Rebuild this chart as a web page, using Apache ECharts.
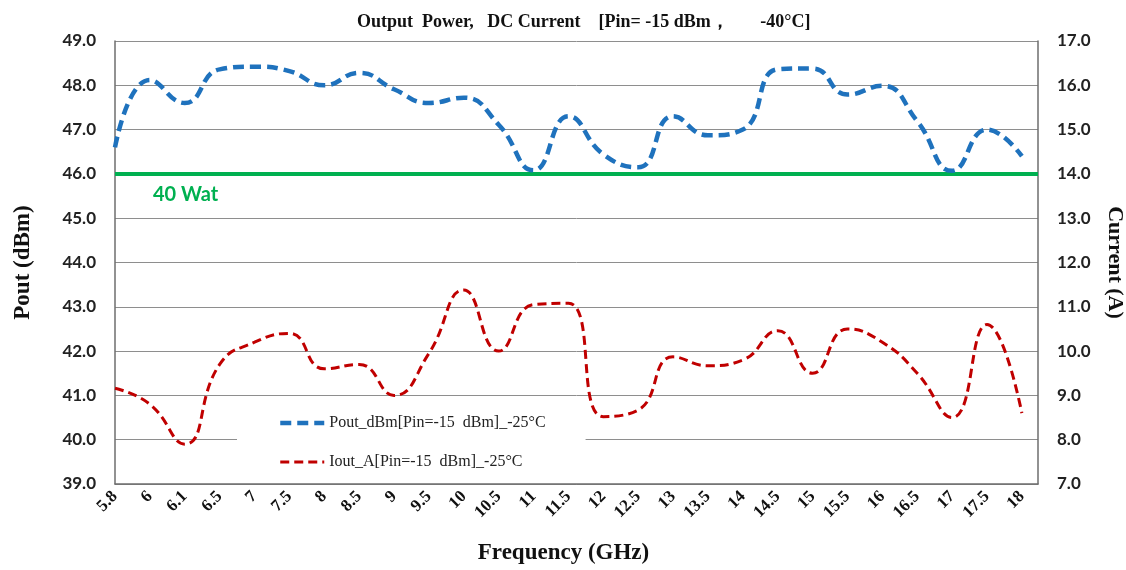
<!DOCTYPE html>
<html>
<head>
<meta charset="utf-8">
<script src="https://cdn.jsdelivr.net/npm/echarts@6/dist/echarts.min.js"></script>
<style>html,body{margin:0;padding:0;background:#fff}#c{width:1126px;height:570px}</style>
</head>
<body>
<div id="c"></div>
<script>
const categories = ['5.8','6','6.1','6.5','7','7.5','8','8.5','9','9.5','10','10.5','11','11.5','12','12.5','13','13.5','14','14.5','15','15.5','16','16.5','17','17.5','18'];
const poutDbm = [46.6,48.12,47.6,48.36,48.42,48.32,48.0,48.28,47.91,47.6,47.72,47.11,46.08,47.3,46.44,46.15,47.3,46.87,47.0,48.36,48.38,47.79,47.99,47.19,46.07,47.0,46.4];
const ioutA = [9.16,8.8,7.9,9.7,10.2,10.4,9.6,9.7,9.0,9.95,11.38,10.0,11.05,11.08,8.52,8.67,9.87,9.67,9.8,10.46,9.5,10.5,10.2,9.5,8.5,10.6,8.6];
const leftTicks = {min: 39, max: 49, interval: 1};
const rightTicks = {min: 7, max: 17, interval: 1};
const limitLine = 46;
const limitLabel = '40 Wat';
const seriesNames = ['Pout_dBm[Pin=-15  dBm]_-25°C', 'Iout_A[Pin=-15  dBm]_-25°C'];

const chart = echarts.init(document.getElementById('c'), null, {renderer: 'canvas'});
const serif = '"Liberation Serif", "DejaVu Serif", serif';
const sans = 'Lato, "Noto Sans", sans-serif';
const gridColor = '#8e8e8e';
const axisColor = '#6e6e6e';

chart.setOption({
  animation: false,
  backgroundColor: '#fff',
  title: {
    text: 'Output  Power,   DC Current    [Pin= -15 dBm，       -40°C]',
    left: 352, top: 8,
    textStyle: {fontFamily: serif, fontWeight: 'bold', fontSize: 18, color: '#111'}
  },
  grid: {left: 115, right: 88, top: 41, bottom: 86, containLabel: false, outerBoundsMode: 'none'},
  legend: {
    orient: 'vertical',
    left: 237, top: 407,
    padding: [8, 40, 8, 41],
    itemGap: 23,
    itemWidth: 44, itemHeight: 14,
    backgroundColor: '#fff',
    itemStyle: {opacity: 0},
    lineStyle: {width: 'inherit'},
    textStyle: {fontFamily: serif, fontSize: 16, color: '#222'},
    data: seriesNames
  },
  xAxis: {
    type: 'value',
    min: 0, max: (1038 - 115) / 34.88, interval: 1,
    name: 'Frequency (GHz)',
    nameLocation: 'middle', nameGap: 58,
    nameTextStyle: {fontFamily: serif, fontWeight: 'bold', fontSize: 23, color: '#111', padding: [0, 26, 0, 0]},
    axisLine: {show: true, lineStyle: {color: axisColor, width: 1.5}},
    axisTick: {show: false},
    splitLine: {show: false},
    axisLabel: {
      rotate: 45, margin: 10, showMaxLabel: false,
      fontFamily: serif, fontWeight: 'bold', fontSize: 17, color: '#111',
      formatter: v => {
        const r = Math.round(v);
        return Math.abs(v - r) < 1e-6 && categories[r] !== undefined ? categories[r] : '';
      }
    }
  },
  yAxis: [
    {
      type: 'value', position: 'left',
      min: leftTicks.min, max: leftTicks.max, interval: leftTicks.interval,
      name: 'Pout (dBm)', nameLocation: 'middle', nameGap: 80, nameRotate: 90,
      nameTextStyle: {fontFamily: serif, fontWeight: 'bold', fontSize: 23, color: '#111'},
      axisLine: {show: true, lineStyle: {color: axisColor, width: 1.5}},
      axisTick: {show: false},
      splitLine: {show: true, lineStyle: {color: gridColor, width: 1}},
      axisLabel: {margin: 19, fontFamily: sans, fontWeight: 'bold', fontSize: 17, color: '#222', formatter: v => v.toFixed(1)}
    },
    {
      type: 'value', position: 'right',
      min: rightTicks.min, max: rightTicks.max, interval: rightTicks.interval,
      name: 'Current (A)', nameLocation: 'middle', nameGap: 66, nameRotate: -90,
      nameTextStyle: {fontFamily: serif, fontWeight: 'bold', fontSize: 22, color: '#111'},
      axisLine: {show: true, lineStyle: {color: axisColor, width: 1.5}},
      axisTick: {show: false},
      splitLine: {show: false},
      axisLabel: {margin: 19, fontFamily: sans, fontWeight: 'bold', fontSize: 17, color: '#222', formatter: v => v.toFixed(1)}
    }
  ],
  graphic: [{
    type: 'text', left: 153, top: 185, z: 10,
    style: {text: limitLabel, fill: '#00b050', font: 'bold 20px ' + sans}
  }],
  series: [
    {
      name: seriesNames[0], type: 'line', yAxisIndex: 0, smooth: 0.5,
      symbol: 'none',
      data: poutDbm.map((v, i) => [i, v]),
      lineStyle: {color: '#1f72bd', width: 4.5, type: [11, 6]},
      itemStyle: {color: '#1f72bd'},
      z: 3,
      markLine: {
        silent: true, symbol: 'none',
        label: {show: false},
        lineStyle: {color: '#00b050', width: 4, type: 'solid'},
        data: [{yAxis: limitLine}],
        z: 2
      }
    },
    {
      name: seriesNames[1], type: 'line', yAxisIndex: 1, smooth: 0.5,
      symbol: 'none',
      data: ioutA.map((v, i) => [i, v]),
      lineStyle: {color: '#c00000', width: 3, type: [9, 5]},
      itemStyle: {color: '#c00000'},
      z: 3
    }
  ]
});
</script>
</body>
</html>
